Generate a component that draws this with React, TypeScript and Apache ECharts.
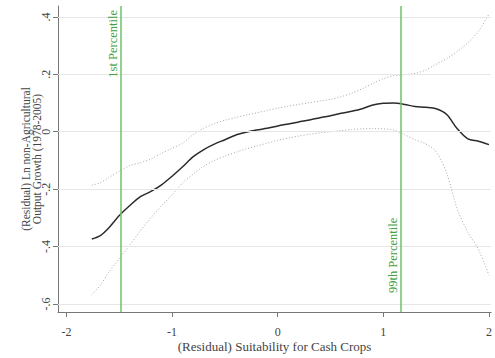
import React, { useEffect, useRef } from "react";
import * as echarts from "echarts";

const xVals = [-1.76, -1.68, -1.6, -1.5, -1.4, -1.3, -1.2, -1.1, -1.0, -0.9, -0.8, -0.7, -0.6, -0.5, -0.4, -0.3, -0.2, -0.1, 0, 0.1, 0.2, 0.3, 0.4, 0.5, 0.6, 0.7, 0.8, 0.9, 1.0, 1.1, 1.2, 1.3, 1.4, 1.5, 1.6, 1.7, 1.8, 1.9, 2.0];
const fitVals = [-0.374, -0.362, -0.335, -0.292, -0.257, -0.226, -0.208, -0.185, -0.155, -0.122, -0.087, -0.062, -0.043, -0.028, -0.012, -0.002, 0.006, 0.012, 0.02, 0.027, 0.034, 0.041, 0.049, 0.056, 0.064, 0.071, 0.08, 0.093, 0.099, 0.1, 0.095, 0.088, 0.085, 0.08, 0.06, 0.01, -0.025, -0.033, -0.045];
const upperVals = [-0.186, -0.178, -0.16, -0.138, -0.118, -0.108, -0.095, -0.075, -0.058, -0.04, -0.01, 0.012, 0.028, 0.04, 0.049, 0.058, 0.066, 0.074, 0.082, 0.089, 0.095, 0.101, 0.107, 0.113, 0.122, 0.134, 0.15, 0.168, 0.185, 0.195, 0.199, 0.203, 0.215, 0.235, 0.255, 0.28, 0.31, 0.35, 0.41];
const lowerVals = [-0.567, -0.535, -0.49, -0.442, -0.395, -0.345, -0.3, -0.258, -0.22, -0.178, -0.148, -0.12, -0.1, -0.085, -0.072, -0.06, -0.05, -0.04, -0.03, -0.022, -0.015, -0.009, -0.004, 0.0, 0.004, 0.008, 0.01, 0.011, 0.01, 0.006, -0.01, -0.028, -0.042, -0.07, -0.145, -0.27, -0.35, -0.41, -0.5];

const xTicks = [-2, -1, 0, 1, 2];
const yTicks = [-0.6, -0.4, -0.2, 0, 0.2, 0.4];
const percentiles = [
  { name: "1st Percentile", x: -1.49 },
  { name: "99th Percentile", x: 1.16 },
];

const FONT = "'Liberation Serif', 'Times New Roman', serif";
const TEXT = "#444";
const GREEN_LINE = "#6cc06c";
const GREEN_TEXT = "#44a044";

function fmtY(v: number): string {
  const r = Math.round(v * 10) / 10;
  if (r === 0) return "0";
  const s = Math.abs(r).toString().replace(/^0/, "");
  return (r < 0 ? "-" : "") + s;
}

export default function App() {
  const ref = useRef<HTMLDivElement>(null);
  useEffect(() => {
    if (!ref.current) return;
    const chart = echarts.init(ref.current, undefined, { renderer: "svg" });
    const pair = (ys: number[]) => xVals.map((x, i) => [x, ys[i]]);
    chart.setOption({
      animation: false,
      backgroundColor: "#fff",
      grid: { left: 58, right: 1, top: 6, bottom: 38 },
      xAxis: {
        type: "value",
        min: -2.08,
        max: 2.02,
        name: "(Residual) Suitability for Cash Crops",
        nameLocation: "middle",
        nameGap: 28,
        nameMoveOverlap: false,
        nameTextStyle: { fontFamily: FONT, fontSize: 13, color: TEXT },
        axisLine: { show: true, onZero: false, lineStyle: { color: "#777", width: 1 } },
        axisTick: { show: true, customValues: xTicks, length: 5, lineStyle: { color: "#777" } },
        axisLabel: {
          customValues: xTicks,
          margin: 14,
          fontFamily: FONT,
          fontSize: 12,
          color: TEXT,
          formatter: (v: number) => String(v),
        },
        splitLine: { show: false },
      },
      yAxis: {
        type: "value",
        min: -0.628,
        max: 0.438,
        name: "(Residual) Ln non-Agricultural\nOutput Growth (1978-2005)",
        nameLocation: "middle",
        nameRotate: 90,
        nameGap: 16,
        nameMoveOverlap: false,
        nameTextStyle: { fontFamily: FONT, fontSize: 11.5, color: TEXT, lineHeight: 10.5 },
        axisLine: { show: true, onZero: false, lineStyle: { color: "#777", width: 1 } },
        axisTick: { show: true, customValues: yTicks, length: 5, lineStyle: { color: "#777" } },
        axisLabel: {
          customValues: yTicks,
          rotate: 90,
          margin: 6,
          fontFamily: FONT,
          fontSize: 12,
          color: TEXT,
          formatter: (v: number) => fmtY(v),
        },
        splitLine: { show: false },
      },
      series: [
        {
          type: "line",
          data: [],
          silent: true,
          z: 1,
          markLine: {
            silent: true,
            symbol: "none",
            label: { show: false },
            lineStyle: { color: "#e6e6e6", width: 1, type: "solid" },
            data: yTicks.map((y) => ({ yAxis: y })),
          },
        },
        {
          type: "line",
          data: pair(upperVals),
          showSymbol: false,
          smooth: 0.3,
          z: 2,
          lineStyle: { color: "#a8a8a8", width: 1, type: [1, 2] },
        },
        {
          type: "line",
          data: pair(lowerVals),
          showSymbol: false,
          smooth: 0.3,
          z: 2,
          lineStyle: { color: "#a8a8a8", width: 1, type: [1, 2] },
        },
        {
          type: "line",
          data: pair(fitVals),
          showSymbol: false,
          smooth: 0.3,
          z: 3,
          lineStyle: { color: "#2b2b2b", width: 1.5 },
        },
        {
          type: "line",
          data: [],
          z: 4,
          markLine: {
            silent: true,
            symbol: "none",
            label: { show: false },
            lineStyle: { color: GREEN_LINE, width: 1.5, type: "solid" },
            data: percentiles.map((p) => ({ xAxis: p.x })),
          },
        },
      ],
    });
    const yTop = 10;
    const yBottom = 293;
    const g = percentiles.map((p, i) => {
      const px = chart.convertToPixel({ xAxisIndex: 0 }, p.x) as number;
      return {
        type: "text",
        x: px - 1,
        y: i === 0 ? yTop : yBottom,
        rotation: Math.PI / 2,
        z: 100,
        style: {
          text: p.name,
          fill: GREEN_TEXT,
          fontFamily: FONT,
          fontSize: 12.5,
          align: i === 0 ? "right" : "left",
          verticalAlign: "bottom",
        },
      };
    });
    chart.setOption({ graphic: g });
    return () => chart.dispose();
  }, []);
  return <div ref={ref} style={{ width: 495, height: 358, position: "absolute", left: 0, top: 0 }} />;
}
